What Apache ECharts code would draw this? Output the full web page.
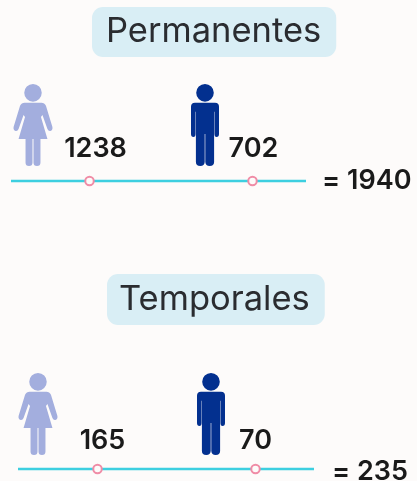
<!DOCTYPE html>
<html>
<head>
<meta charset="utf-8">
<style>
  html, body { margin: 0; padding: 0; background: #fdfbfa; }
  #chart { width: 417px; height: 481px; }
</style>
</head>
<body>
<div id="chart"></div>
<script src="https://cdn.jsdelivr.net/npm/echarts@6/dist/echarts.min.js"></script>
<script>
var groups = ['Permanentes', 'Temporales']
var genders = ['Mujeres', 'Hombres']
var permanentes = [1238, 702]
var temporales = [165, 70]
var totals = [1940, 235]

var FONT = 'Inter'
var WOMAN = 'path://M19.5,0.2 A8.8,8.8 0 1 1 19.49,0.2 Z M11,19 L28,19 Q31,19 32.5,22 L39,43 Q39.5,46 37,47 Q35,47.5 34,45 L29,31 L27.5,33 L34,55 L27,55 L27,78.5 Q27,82 23.5,82 Q20,82 20,78.5 L20,55 L19,55 L19,78.5 Q19,82 15.5,82 Q12,82 12,78.5 L12,55 L5,55 L11.5,33 L10,31 L5,45 Q4,47.5 2,47 Q-0.5,46 0,43 L6.5,22 Q8,19 11,19 Z'
var MAN = 'path://M14,0.2 A8.8,8.8 0 1 1 13.99,0.2 Z M4,19 L24,19 Q28,19 28,23 L28,50 Q28,53 25.5,53 Q23.5,53 23.5,50 L23.5,28 L23.1,28 L23.1,78 Q23.1,82 18.7,82 Q14.6,82 14.3,78 L14.3,50 L13.7,50 L13.7,78 Q13.4,82 9.3,82 Q4.9,82 4.9,78 L4.9,28 L4.5,28 L4.5,50 Q4.5,53 2.5,53 Q0,53 0,50 L0,23 Q0,19 4,19 Z'

// layout of each panel, in pixels
var panels = [
  {
    values: permanentes, left: 89.5, top: 181, width: 163, line: [11, 306], pill: [92, 7], pad: [7, 15, 8, 14],
    total: [322, 167], offsets: [[-56.5, -56], [-47.5, -56]], labels: [[6, -32], [1, -32]]
  },
  {
    values: temporales, left: 97.5, top: 469, width: 158, line: [18, 314], pill: [107, 274], pad: [8, 15, 8, 12],
    total: [332, 458], offsets: [[-59.5, -55], [-44.5, -55]], labels: [[5, -28], [0, -28]]
  }
]
var shapes = [
  { path: WOMAN, size: [39, 82], color: '#a3aede' },
  { path: MAN, size: [28, 82], color: '#03308f' }
]

var chart = echarts.init(document.getElementById('chart'))

var option = {
  backgroundColor: '#fdfbfa',
  animation: false,
  grid: [],
  xAxis: [],
  yAxis: [],
  title: [],
  series: [],
  graphic: []
}

panels.forEach(function(p, i) {
  option.grid.push({ left: p.left, top: p.top - 10, width: p.width, height: 20 })
  option.xAxis.push({ type: 'category', data: genders, boundaryGap: false, gridIndex: i, show: false })
  option.yAxis.push({ type: 'category', data: [groups[i]], gridIndex: i, show: false })

  // pill title
  option.title.push({
    text: groups[i],
    left: p.pill[0],
    top: p.pill[1],
    padding: p.pad,
    backgroundColor: '#d9eef5',
    borderRadius: 11,
    textStyle: { fontFamily: FONT, fontSize: 34.5, fontWeight: 400, color: '#2a2c30' }
  })
  // total on the right of the line
  option.title.push({
    text: '= ' + totals[i],
    left: p.total[0],
    top: p.total[1],
    padding: 0,
    textStyle: { fontFamily: FONT, fontSize: 27, fontWeight: 600, color: '#1a1a1a' }
  })

  option.graphic.push({
    type: 'line',
    z: 1,
    shape: { x1: p.line[0], y1: p.top, x2: p.line[1], y2: p.top },
    style: { stroke: '#3dcfe0', lineWidth: 2.5 }
  })

  // person icons
  option.series.push({
    type: 'scatter',
    xAxisIndex: i,
    yAxisIndex: i,
    z: 3,
    silent: true,
    data: p.values.map(function(v, j) {
      return {
        value: [genders[j], groups[i], v],
        symbol: shapes[j].path,
        symbolSize: shapes[j].size,
        symbolOffset: p.offsets[j],
        itemStyle: { color: shapes[j].color, opacity: 1 }
      }
    })
  })
  // markers with the value labels
  option.series.push({
    type: 'scatter',
    xAxisIndex: i,
    yAxisIndex: i,
    z: 4,
    silent: true,
    symbol: 'circle',
    symbolSize: 8.5,
    itemStyle: { color: '#fdfbfa', borderColor: '#f08ca6', borderWidth: 2, opacity: 1 },
    data: p.values.map(function(v, j) {
      return {
        value: [genders[j], groups[i], v],
        label: {
          show: true,
          position: 'inside',
          offset: p.labels[j],
          formatter: String(v),
          fontFamily: FONT,
          fontSize: 27,
          fontWeight: 600,
          color: '#1a1a1a'
        }
      }
    })
  })
})

chart.setOption(option)
</script>
</body>
</html>
